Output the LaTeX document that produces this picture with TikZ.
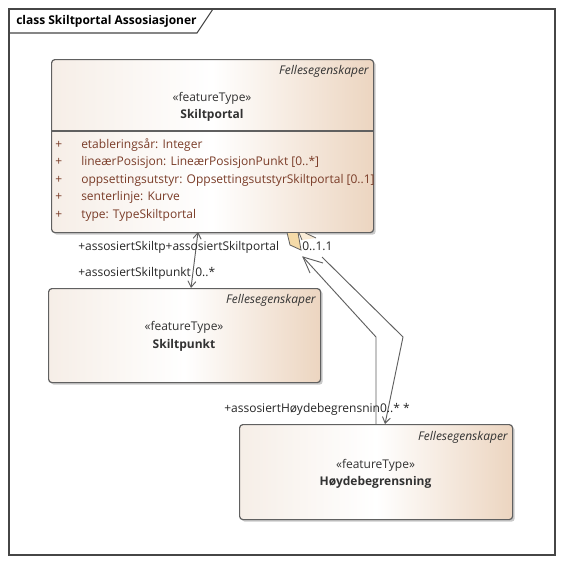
\documentclass[tikz,border=0pt]{standalone}
\usepackage{fontspec}
\setmainfont{Open Sans}
\usetikzlibrary{arrows.meta,shadows}
\definecolor{bordergray}{RGB}{96,96,96}
\definecolor{framegray}{RGB}{70,70,70}
\definecolor{attrbrown}{RGB}{122,60,40}
\definecolor{txtgray}{RGB}{50,50,50}
\definecolor{tanR}{RGB}{236,213,192}
\definecolor{tanL}{RGB}{246,238,231}
\definecolor{aggfill}{RGB}{244,218,168}
\definecolor{aggfill2}{RGB}{250,236,214}
\tikzset{
  classbox/.style={draw=bordergray, line width=0.9pt, rounded corners=2.5pt,
    left color=tanL, right color=tanR, middle color=white,
    drop shadow={shadow xshift=1.6pt, shadow yshift=-1.6pt, opacity=0.35, fill=black!60},
    anchor=north west, inner sep=0pt},
  txt/.style={font=\fontsize{9pt}{11pt}\selectfont, inner sep=0pt, text=txtgray,
    text height=6.6pt, text depth=1.8pt},
  attr/.style={txt, text=attrbrown, anchor=west},
  stereo/.style={txt, anchor=center},
  cname/.style={txt, anchor=center, font=\fontsize{9pt}{11pt}\selectfont\bfseries},
  pkg/.style={txt, anchor=east, font=\fontsize{9pt}{11pt}\selectfont\itshape},
  lbl/.style={txt, text=black!85, anchor=west},
  conn/.style={draw=bordergray, line width=0.7pt},
  navtip/.tip={Straight Barb[length=4.5pt, width=6pt]},
}
\begin{document}
\begin{tikzpicture}[x=0.75pt, y=-0.75pt]
\useasboundingbox (0,0) rectangle (562,564);
\fill[white] (0,0) rectangle (562,564);
% frame
\draw[framegray, line width=0.8pt] (9,9) rectangle (555,555);
\draw[framegray, line width=0.8pt] (9,33) -- (197,33) -- (213,9);
\node[txt, anchor=west, text=black, font=\fontsize{9pt}{11pt}\selectfont\bfseries] (title) at (16,21) {class Skiltportal Assosiasjoner};

% Skiltportal
\node[classbox, minimum width=241.5pt, minimum height=129.75pt] (sp) at (51,59) {};
\draw[bordergray, line width=0.8pt] (51,131) -- (373,131);
\node[pkg] (sppkg) at (369,71) {Fellesegenskaper};
\node[stereo] (spst) at (212,98) {«featureType»};
\node[cname] (spname) at (212,115) {Skiltportal};
\foreach \yy/\tt [count=\i] in {145/{etableringsår: Integer},
  162/{lineærPosisjon: LineærPosisjonPunkt [0..*]},
  180/{oppsettingsutstyr: OppsettingsutstyrSkiltportal [0..1]},
  197/{senterlinje: Kurve},
  215/{type: TypeSkiltportal}}{
  \node[attr] (plus\i) at (55,\yy) {+};
  \node[attr] (at\i) at (81,\yy) {\tt};
}

% Skiltpunkt
\node[classbox, minimum width=204pt, minimum height=70.5pt] (spk) at (48,288) {};
\node[pkg] (spkpkg) at (316,300) {Fellesegenskaper};
\node[stereo] (spkst) at (184,327) {«featureType»};
\node[cname] (spkname) at (184,345) {Skiltpunkt};

% Hoydebegrensning
\node[classbox, minimum width=204.75pt, minimum height=71.25pt] (hb) at (239,424) {};
\node[pkg] (hbpkg) at (508,437) {Fellesegenskaper};
\node[stereo] (hbst) at (375.5,465) {«featureType»};
\node[cname] (hbname) at (375.5,482) {Høydebegrensning};

% connector Skiltportal - Skiltpunkt
\coordinate (a1) at (198,232);
\coordinate (a2) at (191,288);
\draw[conn, {navtip}-{navtip}] (a1) -- (a2);

% aggregation diamonds
\filldraw[fill=aggfill, draw=bordergray, line width=0.6pt] (287,232.5) -- (298,232.5) -- (301,250) -- (290,245) -- cycle;
\fill[aggfill2] (299,232.8) -- (307,232.8) -- (316,238) -- (302,240) -- cycle;
\draw[bordergray, line width=0.6pt] (302,240) -- (299,232.8);
\draw[bordergray, line width=0.6pt] (305,232.8) -- (316,238);

% aggregation connector 1
\coordinate (b1) at (303,257);
\coordinate (b2) at (376,337);
\coordinate (b3) at (376,424);
\draw[conn] (b1) -- (b2) -- (b3);
\draw[conn] (323,263) -- (b1) -- (310,273);

% aggregation connector 2
\coordinate (c1) at (322,257);
\coordinate (c2) at (403,337);
\coordinate (c3) at (385,424);
\draw[conn, -{navtip}] (c1) -- (c2) -- (c3);

% labels
\node[lbl] (l1) at (78,247) {+assosiertSkiltp+assosiertSkiltportal};
\node[lbl] (l2) at (78,273) {+assosiertSkiltpunkt};
\node[lbl] (l3) at (195,273) {0..*};
\node[lbl] (l4) at (302,247) {0..1.1};
\node[lbl] (l5) at (224,409) {+assosiertHøydebegrensnin0..* *};
\end{tikzpicture}
\end{document}
